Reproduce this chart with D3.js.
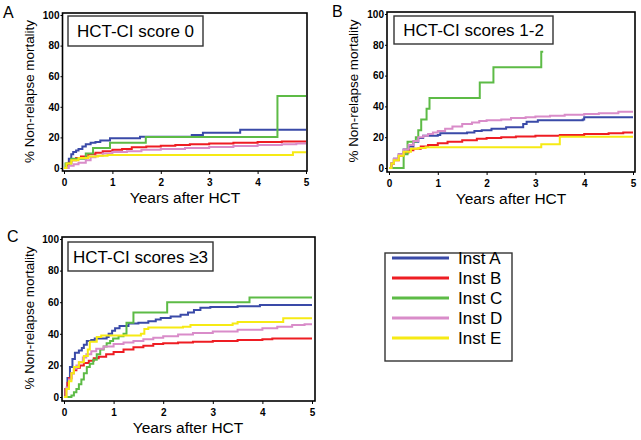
<!DOCTYPE html>
<html><head><meta charset="utf-8">
<script src="https://cdn.jsdelivr.net/npm/d3@7"></script>
<style>body{margin:0;background:#fff}svg{display:block}</style>
</head><body>
<script>
const institutions = ["Inst A","Inst B","Inst C","Inst D","Inst E"];
const colors = ["#3a4aa8","#ee1d23","#5dbb46","#d98cc9","#f6ea14"];
const panelTitles = ["HCT-CI score 0","HCT-CI scores 1-2","HCT-CI scores \u22653"];
const panelLetters = ["A","B","C"];
const xTicks = [0,1,2,3,4,5];
const yTicks = [0,20,40,60,80,100];

// [years, % NRM]
const A_instA = [[0,0],[0.05,3],[0.1,6],[0.15,9],[0.19,10.5],[0.25,11.5],[0.3,12.5],[0.38,14],[0.45,15.5],[0.55,16.5],[0.65,17],[0.75,18],[0.95,19.5],[1.57,20.5],[2.64,21.5],[2.87,23],[3.64,25],[5,25]];
const A_instB = [[0,0],[0.05,2],[0.1,3.5],[0.15,5],[0.25,6.5],[0.35,7.5],[0.5,9],[0.65,10],[0.8,11],[1.0,12],[1.2,12.5],[1.4,13.5],[1.7,14],[2.0,14.5],[2.3,15],[2.6,15.5],[3.0,16],[3.5,16.5],[4.0,17],[4.5,17.3],[5,17.3]];
const A_instC = [[0,0],[0.03,3],[0.15,6],[0.45,9.5],[0.6,13],[0.95,16.5],[1.69,20.3],[4.41,47],[5,47]];
const A_instD = [[0,0],[0.1,1.5],[0.2,2.5],[0.3,3.5],[0.45,5],[0.55,7],[0.65,8],[0.8,9.5],[1.0,10.5],[1.3,11],[1.6,12],[2.0,12.5],[2.5,13],[3.0,13.7],[3.5,14.3],[4.0,15],[4.5,15.5],[4.8,16],[5,16]];
const A_instE = [[0,0],[0.05,3],[0.15,5],[0.3,6.5],[0.5,7.5],[0.7,8],[0.9,8.5],[4.73,10.3],[5,10.3]];

const B_instA = [[0,0],[0.05,3],[0.1,6],[0.2,9],[0.3,12],[0.4,14],[0.5,17],[0.6,19.5],[0.7,21],[1.0,21.5],[1.05,22.5],[1.6,23],[1.75,24],[1.9,24.5],[2.1,25.5],[2.4,26.5],[2.75,28.5],[2.82,30],[3.05,31],[3.97,31.5],[4.0,33],[5,33]];
const B_instB = [[0,0],[0.05,3],[0.1,5],[0.2,8],[0.3,10],[0.4,11.5],[0.5,12.5],[0.65,14],[0.8,15],[1.0,16],[1.2,17],[1.5,18],[1.8,19],[2.0,19.5],[2.3,20],[2.6,20.5],[3.0,21],[3.5,21.5],[4.0,22],[4.5,22.5],[4.8,23],[5,23]];
const B_instC = [[0,0],[0.3,9],[0.38,17],[0.55,20],[0.6,24.5],[0.66,31.5],[0.77,38.5],[0.83,45.5],[1.86,55.5],[2.14,65.5],[3.12,75.5],[3.16,75.5]];
const B_instD = [[0,0],[0.05,3],[0.1,6],[0.2,9],[0.3,12],[0.4,15],[0.5,17.5],[0.6,20],[0.7,21],[0.8,22],[0.9,23],[1.0,24],[1.15,25.5],[1.3,27],[1.5,28.5],[1.7,29.5],[1.85,30.5],[2.0,31],[2.3,31.5],[2.5,32.5],[2.8,33],[3.0,33.5],[3.3,34],[3.6,34.5],[4.0,35],[4.3,35.5],[4.7,36.5],[5,36.5]];
const B_instE = [[0,0],[0.05,3],[0.1,5],[0.2,8],[0.3,10.5],[0.45,12.5],[0.6,13],[0.75,13.5],[3.12,15.5],[3.5,20.3],[5,20.3]];

const C_instA = [[0,0],[0.03,5],[0.07,12],[0.12,19],[0.17,24],[0.22,28],[0.3,29.5],[0.36,31],[0.4,33],[0.46,35.5],[0.55,36],[0.62,37],[0.86,38],[0.9,40],[0.97,42],[1.03,43.5],[1.12,45],[1.3,46.5],[1.5,47],[1.7,48],[1.85,49],[1.95,50],[2.15,51],[2.35,52],[2.5,53.5],[2.62,55],[2.75,56.5],[2.95,57],[3.5,57.5],[3.95,58.2],[5,58.2]];
const C_instB = [[0,0],[0.03,5],[0.07,9],[0.1,12],[0.15,15],[0.2,17],[0.25,18.5],[0.32,20],[0.4,21.5],[0.5,23],[0.6,24.5],[0.7,25.5],[0.85,27],[1.0,28.5],[1.2,30],[1.4,31.5],[1.6,32.5],[1.8,33.5],[2.0,34],[2.3,34.5],[2.6,35],[3.0,35.5],[3.5,36],[4.0,36.5],[4.2,37],[5,37]];
const C_instC = [[0,0],[0.15,1],[0.2,3],[0.25,5],[0.3,8],[0.35,11],[0.4,15],[0.46,19],[0.52,21],[0.59,23.5],[0.66,27],[0.73,30],[0.8,32],[0.86,34],[0.93,35.5],[0.99,37],[1.1,38.5],[1.2,40],[1.26,47],[1.4,53.5],[2.08,60],[3.74,63],[5,63]];
const C_instD = [[0,0],[0.05,6],[0.1,11],[0.15,15],[0.2,18],[0.25,20],[0.3,22],[0.38,25],[0.45,27],[0.55,29],[0.65,30.5],[0.8,32],[1.0,33.5],[1.2,34.5],[1.4,35.5],[1.6,36.5],[1.8,37.5],[2.0,38.5],[2.3,39.5],[2.6,40.5],[3.0,41.5],[3.5,42.5],[4.0,43.5],[4.3,44.5],[4.6,45.5],[4.85,46],[5,46]];
const C_instE = [[0,0],[0.05,5],[0.1,10],[0.15,15],[0.2,19],[0.3,22],[0.4,26],[0.48,30],[0.52,35],[0.66,38],[0.75,39],[1.55,40],[1.62,43],[1.7,44],[2.4,44.5],[2.55,45.5],[3.4,46.5],[3.5,47.5],[4.42,49.8],[5,49.8]];

const panelSeries = [
  [A_instA,A_instB,A_instC,A_instD,A_instE],
  [B_instA,B_instB,B_instC,B_instD,B_instE],
  [C_instA,C_instB,C_instC,C_instD,C_instE]
];

// layout
const layouts = [
  {frame:[62.5,13,307,171], x:[64,306], y:[168,15], letter:[3,18], title:[68,16,135,30], ylab:34},
  {frame:[387,12,635,172], x:[389,633], y:[168,14], letter:[332,17], title:[394,16,159,28], ylab:358},
  {frame:[62,237,315,401], x:[64,312], y:[397,239], letter:[7,242], title:[68,242,145,29], ylab:34}
];

const FONT = "'Liberation Sans', Arial, sans-serif";
const svg = d3.select("body").append("svg").attr("width",641).attr("height",440)
  .style("font-family",FONT);

panelSeries.forEach((series,pi)=>{
  const L = layouts[pi];
  const x = d3.scaleLinear().domain([0,5]).range(L.x);
  const y = d3.scaleLinear().domain([0,100]).range(L.y);
  const [fx0,fy0,fx1,fy1] = L.frame;
  const g = svg.append("g");

  const lineGen = d3.line().x(d=>x(d[0])).y(d=>y(d[1])).curve(d3.curveStepAfter);
  series.forEach((s,i)=>{
    g.append("path").attr("d",lineGen(s)).attr("fill","none")
      .attr("stroke",colors[i]).attr("stroke-width",2);
  });

  g.append("rect").attr("x",fx0).attr("y",fy0).attr("width",fx1-fx0).attr("height",fy1-fy0)
    .attr("fill","none").attr("stroke","#000").attr("stroke-width",1.6);

  const xa = g.append("g").attr("transform",`translate(0,${fy1})`)
    .call(d3.axisBottom(x).tickValues(xTicks).tickFormat(d3.format("d")).tickSize(3).tickPadding(5).tickSizeOuter(0));
  const ya = g.append("g").attr("transform",`translate(${fx0},0)`)
    .call(d3.axisLeft(y).tickValues(yTicks).tickFormat(d3.format("d")).tickSize(2).tickPadding(1).tickSizeOuter(0));
  [xa,ya].forEach(a=>{
    a.select(".domain").remove();
    a.selectAll("text").attr("font-family",FONT).attr("font-weight","bold").attr("font-size",10).attr("fill","#000");
    a.selectAll("line").attr("stroke","#000").attr("stroke-width",1);
  });

  // title box
  const [tx,ty,tw,th] = L.title;
  g.append("rect").attr("x",tx).attr("y",ty).attr("width",tw).attr("height",th)
    .attr("fill","#fff").attr("stroke","#333").attr("stroke-width",1.4);
  g.append("text").attr("x",tx+tw/2).attr("y",ty+th/2+6).attr("text-anchor","middle")
    .attr("font-size",17).attr("fill","#000").text(panelTitles[pi]);

  // panel letter
  g.append("text").attr("x",L.letter[0]).attr("y",L.letter[1]).attr("font-size",16).attr("fill","#000").text(panelLetters[pi]);

  // axis titles
  g.append("text").attr("x",(L.x[0]+L.x[1])/2).attr("y",fy1+32).attr("text-anchor","middle")
    .attr("font-size",15.5).attr("fill","#000").text("Years after HCT");
  g.append("text").attr("transform",`translate(${L.ylab},${(L.y[0]+L.y[1])/2}) rotate(-90)`)
    .attr("text-anchor","middle").attr("font-size",13.4).attr("fill","#000").text("% Non-relapse mortality");
});

// legend
const lg = svg.append("g");
lg.append("rect").attr("x",385).attr("y",253).attr("width",127).attr("height",108)
  .attr("fill","none").attr("stroke","#333").attr("stroke-width",1.4);
institutions.forEach((name,i)=>{
  const yy = 258 + i*20;
  lg.append("line").attr("x1",392).attr("x2",449).attr("y1",yy).attr("y2",yy)
    .attr("stroke",colors[i]).attr("stroke-width",3);
  lg.append("text").attr("x",458).attr("y",yy+6).attr("font-size",17).attr("fill","#000").text(name);
});
</script>
</body></html>
